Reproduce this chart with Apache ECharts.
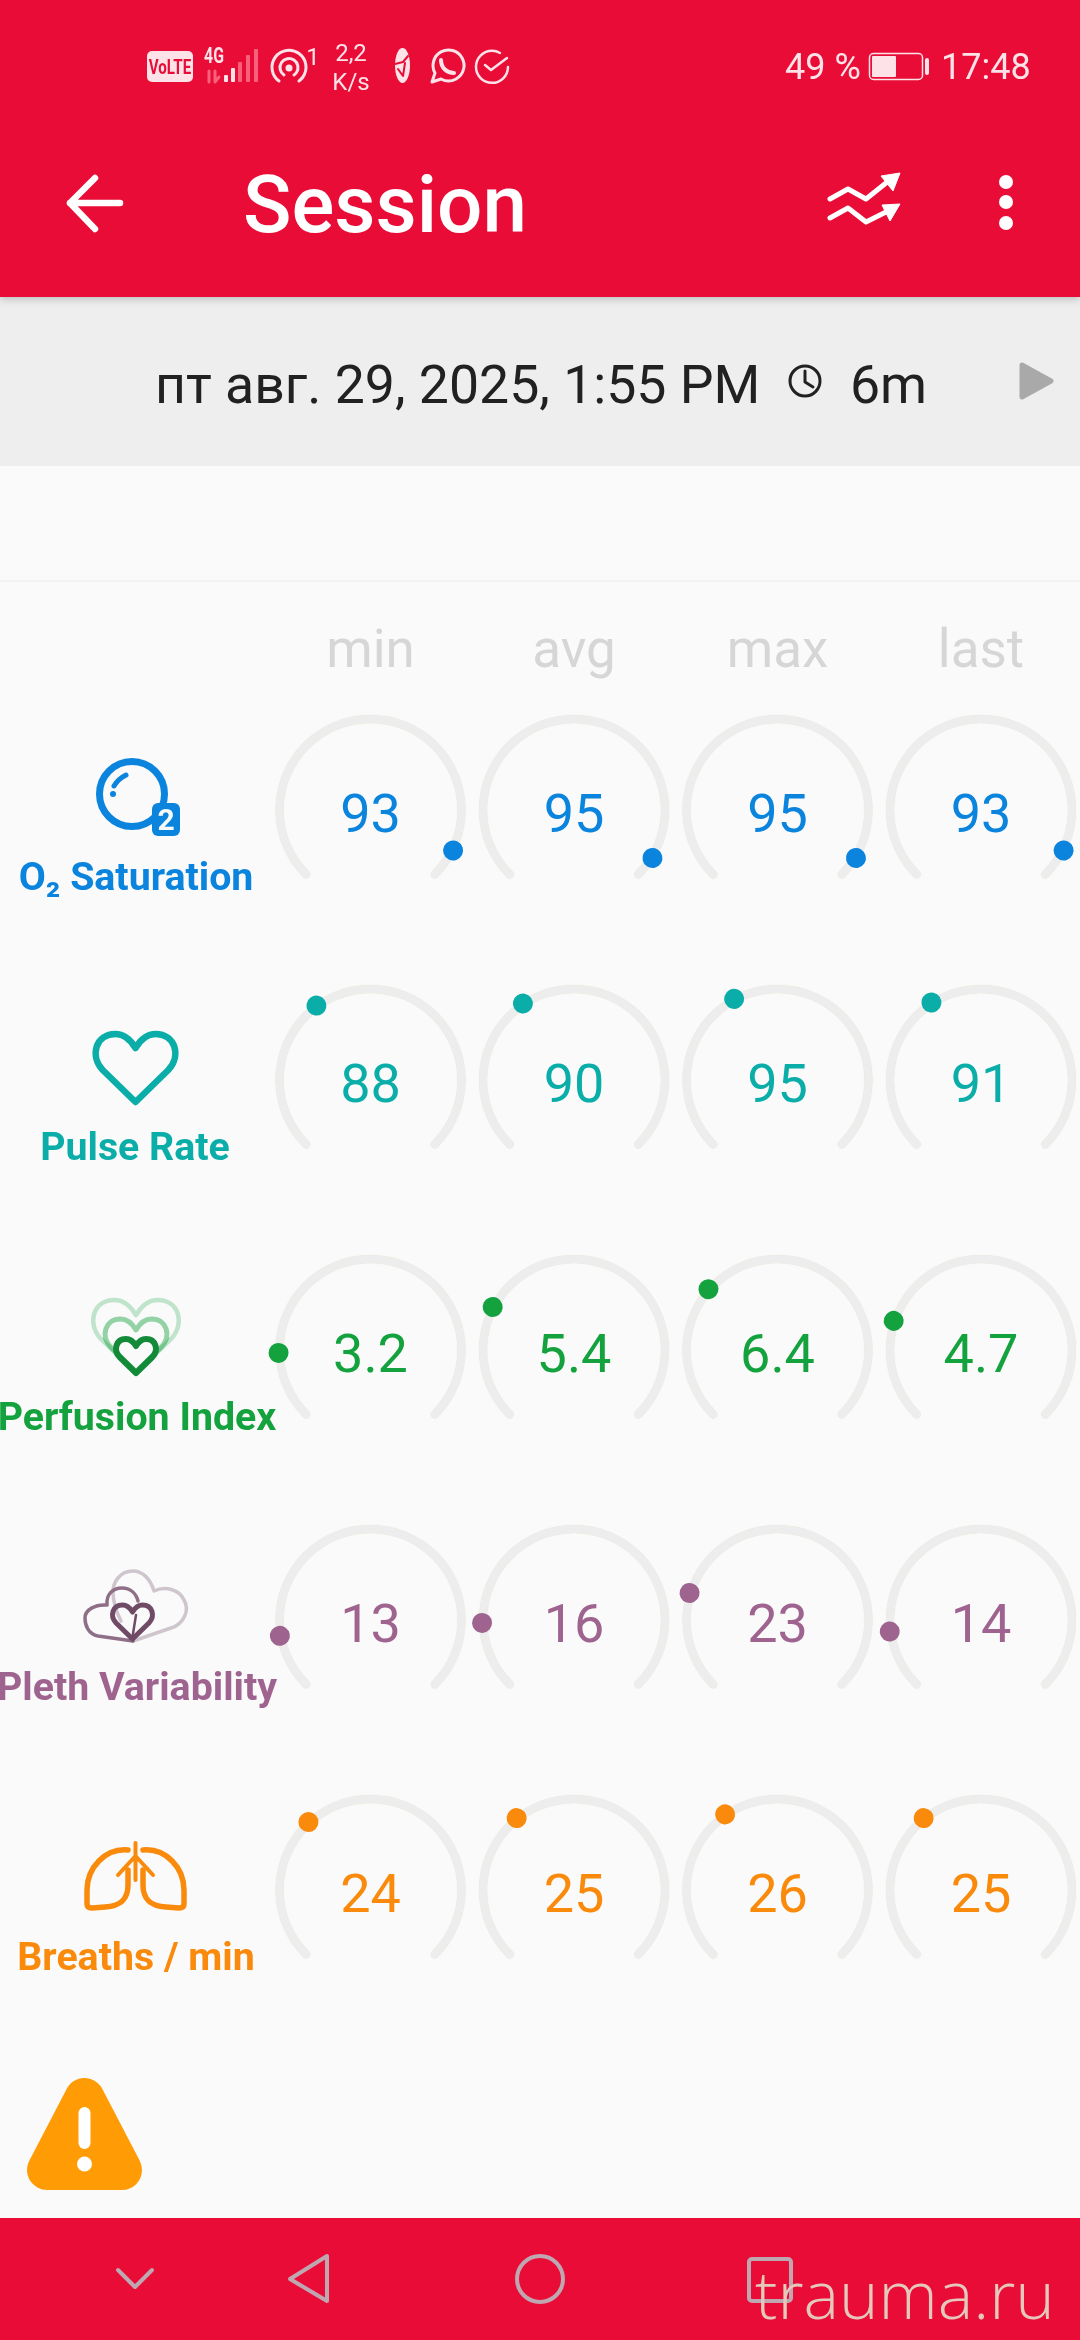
<!DOCTYPE html>
<html>
<head>
<meta charset="utf-8">
<title>Session</title>
<style>
    html, body { margin: 0; padding: 0; background: #fafafa; }
    #container { width: 1080px; height: 2340px; }
</style>
<script src="https://cdn.jsdelivr.net/npm/echarts@6/dist/echarts.min.js"></script>
</head>
<body>
<div id="container"></div>
<script>
var columnNames = ['min', 'avg', 'max', 'last'];
var rowNames = ['O₂ Saturation', 'Pulse Rate', 'Perfusion Index', 'Pleth Variability', 'Breaths / min'];
var rowColors = ['#0a84dd', '#0badA8', '#14a23e', '#9e638e', '#f98a0c'];
var rowMax = [100, 240, 20, 100, 70];

var o2Values = [93, 95, 95, 93];
var pulseValues = [88, 90, 95, 91];
var perfusionValues = [3.2, 5.4, 6.4, 4.7];
var plethValues = [13, 16, 23, 14];
var breathsValues = [24, 25, 26, 25];
var rowValues = [o2Values, pulseValues, perfusionValues, plethValues, breathsValues];

var FONT = 'Roboto';
var RED = '#e90c37';
var TINT = '#fde3e8';
var NAV = '#bfa7b2';

var columnX = [370.5, 574, 777.5, 981];
var rowY = [810, 1080, 1350, 1620, 1890];
var labelBaseline = [890, 1160, 1430, 1700, 1970];
var labelX = [136, 135, 137, 137, 136];

/*==========================================
 * 文字元素，y 为基线
 */
function textEl(text, x, baseline, size, color, weight, align, z) {
    return {
        type: 'text',
        z: z || 10,
        style: {
            text: text,
            x: x,
            y: baseline - size * 0.24,
            fill: color,
            font: (weight || 400) + ' ' + size + 'px ' + FONT,
            textAlign: align || 'left',
            textVerticalAlign: 'middle'
        }
    };
}

// 窄字体的状态栏文字
function narrowEl(text, x, baseline, size, color) {
    var el = textEl(text, 0, 0, size, color, 700, 'center');
    el.style.y = 0;
    el.x = x;
    el.y = baseline - size * 0.24;
    el.scaleX = 0.72;
    return el;
}

function rectEl(x, y, w, h, color, r, z, extra) {
    var style = { fill: color };
    for (var i in extra) {
        style[i] = extra[i];
    }
    return { type: 'rect', z: z || 1, shape: { x: x, y: y, width: w, height: h, r: r || 0 }, style: style };
}

/*==========================================
 * 仪表盘，每个单元格一个
 */
function buildGauges() {
    var series = [];
    for (var r = 0; r < rowNames.length; r++) {
        for (var c = 0; c < columnNames.length; c++) {
            series.push({
                type: 'gauge',
                name: rowNames[r] + ' ' + columnNames[c],
                center: [columnX[c], rowY[r]],
                radius: 95,
                startAngle: 225,
                endAngle: -45,
                min: 0,
                max: rowMax[r],
                animation: false,
                silent: true,
                axisLine: {
                    roundCap: true,
                    lineStyle: {
                        width: 8,
                        color: [[1, '#ededed']],
                        shadowColor: '#eadfc8',
                        shadowBlur: 1
                    }
                },
                progress: { show: false },
                splitLine: { show: false },
                axisTick: { show: false },
                axisLabel: { show: false },
                anchor: { show: false },
                title: { show: false },
                pointer: {
                    icon: 'circle',
                    length: 20,
                    width: 20,
                    offsetCenter: [0, -82],
                    itemStyle: { color: rowColors[r] }
                },
                detail: {
                    valueAnimation: false,
                    offsetCenter: [0, 8],
                    color: rowColors[r],
                    fontFamily: FONT,
                    fontWeight: 400,
                    fontSize: 54,
                    formatter: function (val) { return String(val); }
                },
                data: [{ value: rowValues[r][c] }]
            });
        }
    }
    return series;
}

/*==========================================
 * 页面外框：状态栏、标题栏、日期栏、导航栏
 */
function buildChrome() {
    var els = [];
    els.push(rectEl(0, 0, 1080, 2340, '#fafafa', 0, 0));
    els.push(rectEl(0, 297, 1080, 169, '#eeeeee', 0, 1));
    els.push(rectEl(0, 0, 1080, 297, RED, 0, 2, { shadowBlur: 8, shadowOffsetY: 2, shadowColor: 'rgba(0,0,0,0.22)' }));
    els.push(rectEl(0, 580, 1080, 2, '#f3f3f3', 0, 1));
    els.push(rectEl(0, 2218, 1080, 122, RED, 0, 2));

    // status bar
    els.push(rectEl(147, 51, 46, 31, TINT, 5, 5));
    els.push(narrowEl('VoLTE', 170, 74, 21, RED));
    els.push(narrowEl('4G', 214, 63, 22, TINT));
    els.push(textEl('1', 313, 65, 24, TINT, 400, 'center'));
    els.push(textEl('2,2', 351, 61, 24, TINT, 400, 'center'));
    els.push(textEl('K/s', 351, 90, 24, TINT, 400, 'center'));
    els.push(textEl('49 %', 785, 79, 36, TINT, 400, 'left'));
    els.push(textEl('17:48', 941, 79, 36, TINT, 400, 'left'));

    var barX = [224, 231, 238, 246, 254];
    var barTop = [75, 68, 62, 55, 49];
    for (var i = 0; i < barX.length; i++) {
        els.push(rectEl(barX[i], barTop[i], 4, 82 - barTop[i], i < 2 ? TINT : '#f8607c', 1, 5));
    }
    els.push(rectEl(869.5, 53.5, 53, 26, 'none', 4, 5, { stroke: TINT, lineWidth: 1.5 }));
    els.push(rectEl(872, 56, 24, 21, TINT, 1, 5));
    els.push(rectEl(925, 58, 4, 17, TINT, 2, 5));

    // title
    els.push(textEl('Session', 243, 231, 80, '#ffffff', 500, 'left'));

    // date bar
    els.push(textEl('пт авг. 29, 2025, 1:55 PM', 155, 402, 53.6, '#212121', 400, 'left'));
    els.push(textEl('6m', 850, 402, 53.6, '#212121', 400, 'left'));

    // column heads
    for (var c = 0; c < columnNames.length; c++) {
        els.push(textEl(columnNames[c], columnX[c], 666, 53, '#d6d6d6', 400, 'center'));
    }
    // row labels
    for (var r = 0; r < rowNames.length; r++) {
        els.push(textEl(rowNames[r], labelX[r], labelBaseline[r], 39.3, rowColors[r], 700, 'center'));
    }

    // O2 角标
    els.push(rectEl(152, 803, 28, 33, rowColors[0], 6, 60));
    els.push(textEl('2', 166, 830, 30, '#fafafa', 700, 'center', 61));

    els.push({
        type: 'circle', z: 60, shape: { cx: 84.5, cy: 2164, r: 7.5 }, style: { fill: '#ffffff' }
    });
    els.push(rectEl(78.5, 2107, 12, 42, '#ffffff', 6, 60));

    // 水印
    els.push({
        type: 'text',
        z: 100,
        style: {
            text: 'trauma.ru',
            x: 755,
            y: 2300,
            fill: '#e4c8bc',
            font: '300 67px "Open Sans"',
            textAlign: 'left',
            textVerticalAlign: 'middle'
        }
    });
    return els;
}

function heartPath(cx, top, s) {
    function p(x, y) { return (cx + x * s) + ' ' + (top + y * s); }
    return 'M' + p(0, 1.7) + ' L' + p(-0.82, 0.9) +
        ' C' + p(-1.15, 0.55) + ' ' + p(-1, 0) + ' ' + p(-0.5, 0) +
        ' C' + p(-0.27, 0) + ' ' + p(-0.12, 0.15) + ' ' + p(0, 0.35) +
        ' C' + p(0.12, 0.15) + ' ' + p(0.27, 0) + ' ' + p(0.5, 0) +
        ' C' + p(1, 0) + ' ' + p(1.15, 0.55) + ' ' + p(0.82, 0.9) + ' Z';
}

/*==========================================
 * 图标，直接加到 zrender
 */
function addIcons(chart) {
    var zr = chart.getZr();

    function stroke(d, color, width, opacity) {
        zr.add(echarts.graphic.makePath(d, {
            z: 50,
            silent: true,
            style: { fill: 'none', stroke: color, lineWidth: width, lineCap: 'round', lineJoin: 'round', opacity: opacity == null ? 1 : opacity }
        }));
    }
    function fill(d, color) {
        zr.add(echarts.graphic.makePath(d, {
            z: 50,
            silent: true,
            style: { fill: color, stroke: color, lineWidth: 1, lineJoin: 'round' }
        }));
    }
    function dot(cx, cy, r, color) {
        zr.add(new echarts.graphic.Circle({ z: 50, silent: true, shape: { cx: cx, cy: cy, r: r }, style: { fill: color } }));
    }

    // status icons
    stroke('M279 81 A17 17 0 1 1 299 81', TINT, 3);
    stroke('M284 75 A9 9 0 1 1 294 75', TINT, 3);
    dot(289, 68, 3.5, TINT);
    stroke('M209 71 L209 82 M215 71 L215 82 L219 77', '#f8607c', 3);
    zr.add(new echarts.graphic.Ellipse({ z: 50, silent: true, shape: { cx: 402.5, cy: 65.5, rx: 7.5, ry: 17.5 }, style: { fill: TINT } }));
    stroke('M395 64 L403 62 L408 56', RED, 2);
    stroke('M398 69 L403 76 L405 63', RED, 2);
    stroke('M432 82 L435 73 A15.5 15.5 0 1 1 441 79 Z', TINT, 3);
    stroke('M441 60 C441 68 447 73 454 73', TINT, 4);
    stroke('M508 67 A16 16 0 1 1 500 53', TINT, 2.5);
    stroke('M485 65 L491 70 L507 58', TINT, 2.5);

    // header
    stroke('M95 178 L70 203 L95 229 M70 203 L120 203', '#ffffff', 6.5);
    stroke('M830 199 L848 189 L866 199 L886 183', '#ffffff', 5);
    fill('M881 176 L900 173 L893 191 Z', '#ffffff');
    stroke('M830 218 L848 208 L866 222 L886 212', '#ffffff', 5);
    fill('M882 205 L900 204 L890 221 Z', '#ffffff');
    dot(1006, 182, 7, '#ffffff');
    dot(1006, 202, 7, '#ffffff');
    dot(1006, 223, 7, '#ffffff');

    // date bar
    stroke('M820 381 A15 15 0 1 1 790 381 A15 15 0 1 1 820 381', '#212121', 3);
    stroke('M805 371 L805 382 L813 387', '#212121', 3);
    zr.add(echarts.graphic.makePath('M1022 365 L1051 381 L1022 397 Z', {
        z: 50,
        style: { fill: '#a9a9a9', stroke: '#a9a9a9', lineWidth: 5, lineJoin: 'round' }
    }));

    // O2
    stroke('M164.5 794 A32.5 32.5 0 1 1 99.5 794 A32.5 32.5 0 1 1 164.5 794', rowColors[0], 7);
    stroke('M114 786 Q118 779 126 775', rowColors[0], 5);
    dot(113, 794, 3, rowColors[0]);

    // pulse
    stroke(heartPath(135.5, 1034, 40), rowColors[1], 6.5);

    // perfusion
    stroke(heartPath(136, 1300, 43), rowColors[2], 4.5, 0.25);
    stroke(heartPath(136, 1319, 31), rowColors[2], 5, 0.45);
    stroke(heartPath(136, 1339, 20), '#128a38', 6);

    // pleth
    stroke('M133 1641 L171 1628 C184 1624 190 1610 184 1600 C179 1589 165 1586 154 1591 C150 1578 142 1571 133 1571 C120 1571 113 1582 113 1592 C113 1605 118 1615 121 1621', '#cfc6cd', 3.5);
    stroke('M133 1641 L98 1636 C88 1634 85 1625 85 1618 C85 1610 95 1604 107 1605 C106 1594 113 1588 122 1588 C130 1588 136 1593 138 1601', '#8f6f87', 3.5);
    stroke(heartPath(132.5, 1605, 20), '#6f4b66', 5);
    stroke('M132 1640 L136 1615', '#6f4b66', 2.5);

    // lungs
    var o = rowColors[4];
    stroke('M128 1850 C105 1848 87 1868 87 1890 L87 1904 Q87 1908 92 1908 L105 1907 C120 1906 128 1900 128 1885 L128 1870', o, 5.5);
    stroke('M143 1850 C166 1848 184 1868 184 1890 L184 1904 Q184 1908 179 1908 L166 1907 C151 1906 143 1900 143 1885 L143 1870', o, 5.5);
    stroke('M135.5 1843 L135.5 1880 M135.5 1856 L118 1875 M135.5 1856 L153 1875', o, 4);

    // warning
    zr.add(echarts.graphic.makePath('M84.5 2098 L47 2170 L122 2170 Z', {
        z: 5,
        style: { fill: '#ff9c05', stroke: '#ff9c05', lineWidth: 40, lineJoin: 'round' }
    }));

    // nav
    stroke('M118 2270 L135 2287 L152 2270', NAV, 4);
    stroke('M327 2256 L327 2301 L290 2279 Z', NAV, 4);
    stroke('M563 2279 A23 23 0 1 1 517 2279 A23 23 0 1 1 563 2279', NAV, 4);
    zr.add(new echarts.graphic.Rect({
        z: 50,
        silent: true,
        shape: { x: 749, y: 2259, width: 42, height: 42, r: 3 },
        style: { fill: 'none', stroke: NAV, lineWidth: 4 }
    }));
}

var dom = document.getElementById('container');
var myChart = echarts.init(dom);
myChart.setOption({
    backgroundColor: '#fafafa',
    animation: false,
    graphic: { elements: buildChrome() },
    series: buildGauges()
});
addIcons(myChart);
</script>
</body>
</html>
